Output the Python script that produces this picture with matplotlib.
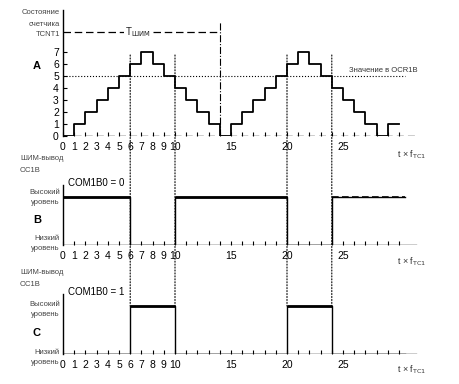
import matplotlib
matplotlib.use("Agg")
import matplotlib.pyplot as plt
from matplotlib.patches import ConnectionPatch
from matplotlib.ticker import FixedLocator, FixedFormatter

plt.rcParams['font.family'] = ['Liberation Sans', 'DejaVu Sans']

# ---------------- data ----------------
step_t = list(range(0, 31))                     # counter step boundaries (t x f)
counter = [0, 1, 2, 3, 4, 5, 6, 7, 6, 5, 4, 3, 2, 1, 0,
           1, 2, 3, 4, 5, 6, 7, 6, 5, 4, 3, 2, 1, 0, 1]   # TCNT1 per step
ocr_value = 5
period = 14
edge_t = [0, 6, 10, 20, 24, 30.5]               # output switching times
level_b = [1, 0, 1, 0, 1]                       # COM1B0 = 0
level_c = [0, 1, 0, 1, 0]                       # COM1B0 = 1
match_t = [6, 10, 20, 24]
tick_pos = list(range(0, 31))
tick_lab = {0: "0", 1: "1", 2: "2", 3: "3", 4: "4", 5: "5", 6: "6", 7: "7",
            8: "8", 9: "9", 10: "10", 15: "15", 20: "20", 25: "25"}
y_ticks_a = list(range(0, 8))

W, H = 460, 384
fig = plt.figure(figsize=(W / 100, H / 100), dpi=100)


def px_axes(x0, y_bottom, width, height):
    return fig.add_axes([x0 / W, 1 - y_bottom / H, width / W, height / H])


UNIT = 11.2
XMAX = 32
axA = px_axes(63, 136, XMAX * UNIT, 126)
axB = px_axes(63, 245, XMAX * UNIT, 60)
axC = px_axes(63, 354, XMAX * UNIT, 60)

for ax in (axA, axB, axC):
    ax.set_xlim(0, XMAX)
    for s in ('top', 'right', 'bottom'):
        ax.spines[s].set_visible(False)
    ax.spines['left'].set_linewidth(1.0)
    ax.patch.set_alpha(0)
    ax.xaxis.set_major_locator(FixedLocator(tick_pos))
    ax.xaxis.set_major_formatter(FixedFormatter([tick_lab.get(p, "") for p in tick_pos]))
    ax.tick_params(axis='x', direction='in', length=3, width=0.8, pad=4,
                   labelsize=7.5)

axA.set_ylim(0, 10.5)
axB.set_ylim(0, 1.25)
axC.set_ylim(0, 1.25)

# ---------- panel A : counter ----------
axA.axhline(0, xmin=0, xmax=31.5 / XMAX, color='black', lw=1.0, ls=(0, (5, 3)))
axA.step(step_t, counter + [counter[-1]], where='post', color='black', lw=1.3)
axA.axhline(ocr_value, xmin=0, xmax=30.5 / XMAX, color='black', lw=0.8, ls=':')
axA.set_yticks(y_ticks_a)
axA.tick_params(axis='y', direction='in', length=3, width=0.8, pad=3, labelsize=7.5)
axA.vlines(period, 0, 9.5, color='black', lw=0.8, ls='-.')
axA.plot([0, period], [8.7, 8.7], color='black', lw=0.9, ls=(0, (6, 3)))
axA.text(period / 2 - 0.3, 8.7, "T$_{\\mathrm{ШИМ}}$", ha='center', va='center',
         fontsize=7, color='#222', bbox=dict(fc='white', ec='none', pad=1))
axA.text(25.5, ocr_value + 0.2, "Значение в OCR1B", fontsize=5.5, color='#333',
         va='bottom', ha='left')
for ax in (axA, axB, axC):
    ax.text(30.0, -0.0, "", transform=ax.transData)

# ---------- panels B and C : outputs ----------
def draw_output(ax, levels):
    xs = edge_t
    ax.step(xs, levels + [levels[-1]], where='post', color='black', lw=1.0)
    for i, lv in enumerate(levels):
        if lv == 1:
            ls = '-' if i < len(levels) - 1 else (0, (4, 2))
            ax.hlines(1, xs[i], xs[i + 1], color='black', lw=2.0 if ls == '-' else 1.2,
                      linestyles=[ls])
    ax.axhline(0, xmin=0, xmax=31.5 / XMAX, color='black', lw=1.0)
    ax.set_yticks([])


draw_output(axB, level_b)
draw_output(axC, level_c)

# vertical dotted guide lines through all panels
for t in match_t:
    cp = ConnectionPatch(xyA=(t, 6.75), coordsA=axA.transData,
                         xyB=(t, 1), coordsB=axC.transData,
                         color='black', lw=0.8, ls=':')
    fig.add_artist(cp)

# ---------------- texts ----------------
def ftext(x, y, s, **kw):
    fig.text(x / W, 1 - y / H, s, **kw)


small = dict(fontsize=5.5, color='#444', va='center')
ftext(60, 13, "Состояние", ha='right', **small)
ftext(60, 24, "счетчика", ha='right', **small)
ftext(60, 35, "TCNT1", ha='right', **small)
ftext(37, 66, "A", fontsize=8, fontweight='bold', ha='center', va='center')

for yoff, sub, lab, ycom in ((0, "0", "B", 183), (113, "1", "C", 292)):
    ftext(20, 159 + yoff * 1.0, "ШИМ-вывод", ha='left', **small)
    ftext(20, 171 + yoff * 1.0, "OC1B", ha='left', **small)
    ftext(96, ycom, "COM1B0 = " + sub, fontsize=7, ha='center', va='center')
    ftext(60, 192 + yoff, "Высокий", ha='right', **small)
    ftext(60, 202 + yoff, "уровень", ha='right', **small)
    ftext(37, 220 + yoff, lab, fontsize=8, fontweight='bold', ha='center', va='center')
    ftext(60, 239 + yoff, "Низкий", ha='right', **small)
    ftext(60, 249 + yoff, "уровень", ha='right', **small)

for y in (155, 262, 370):
    ftext(397, y, "t × f$_{\\mathrm{TC1}}$", fontsize=6.5, color='#333', ha='left',
          va='center')

fig.savefig("out.png", dpi=100)
